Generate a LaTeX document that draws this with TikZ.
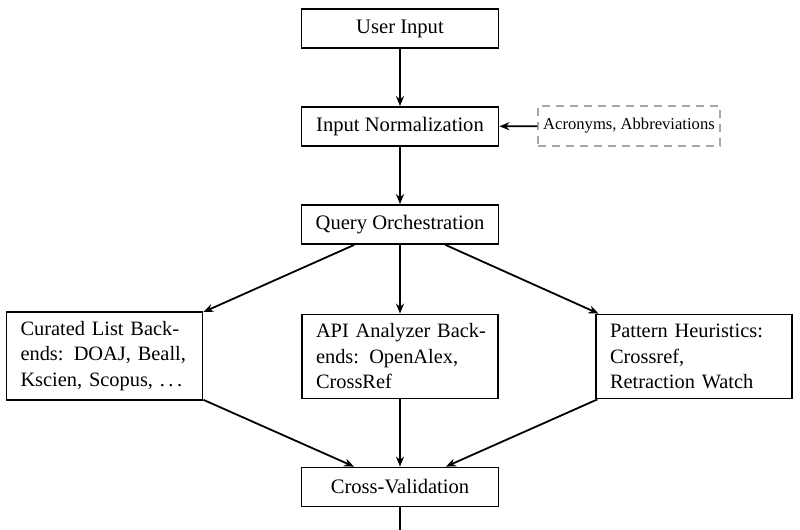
\documentclass[tikz,border=0pt]{standalone}
\usepackage{fontspec}
\setmainfont{Liberation Serif}
\usetikzlibrary{arrows.meta}
\newcommand{\jline}[1]{\makebox[\linewidth][s]{#1}}
\begin{document}
\begin{tikzpicture}[x=1pt,y=1pt,
  box/.style={draw, line width=0.9pt, minimum width=98.5pt, minimum height=19.5pt, inner sep=3pt, font=\fontsize{10.3}{12.75}\selectfont},
  tbox/.style={draw, line width=0.9pt, text width=84pt, align=left, inner xsep=7pt, inner ysep=4.5pt, minimum height=42pt, font=\fontsize{10.2}{12.75}\selectfont},
  aux/.style={draw=gray!70, dashed, dash pattern=on 4pt off 3pt, line width=0.6pt, minimum width=91pt, minimum height=20pt, inner sep=2pt, font=\fontsize{8.3}{10}\selectfont},
  arr/.style={-{Stealth[length=5pt,width=4pt]}, line width=0.9pt}]
\useasboundingbox (0,0) rectangle (400,-265);
\node[box] (ui) at (200,-14.25) {User Input};
\node[box] (norm) at (200,-63.25) {Input Normalization};
\node[aux] (acr) at (314.5,-63) {Acronyms, Abbreviations};
\node[box] (qo) at (200,-112.25) {Query Orchestration};
\node[tbox] (cur) at (52.25,-178) {\jline{Curated List Back-}\\ \jline{ends: DOAJ, Beall,}\\ Kscien, Scopus, .\kern0.17em.\kern0.17em.};
\node[tbox] (api) at (200,-178.25) {\jline{API Analyzer Back-}\\ \jline{ends: OpenAlex,}\\ CrossRef};
\node[tbox] (pat) at (347,-178.25) {Pattern Heuristics:\\ Crossref,\\ Retraction Watch};
\node[box] (cv) at (200,-243.5) {Cross-Validation};
\coordinate (out) at (200,-265);
\draw[arr] (ui) -- (norm);
\draw[arr] (acr) -- (norm);
\draw[arr] (norm) -- (qo);
\draw[arr] (qo) -- (cur);
\draw[arr] (qo) -- (api);
\draw[arr] (qo) -- (pat);
\draw[arr] (cur) -- (cv);
\draw[arr] (api) -- (cv);
\draw[arr] (pat) -- (cv);
\draw[line width=0.9pt] (cv) -- (out);
\end{tikzpicture}
\end{document}
